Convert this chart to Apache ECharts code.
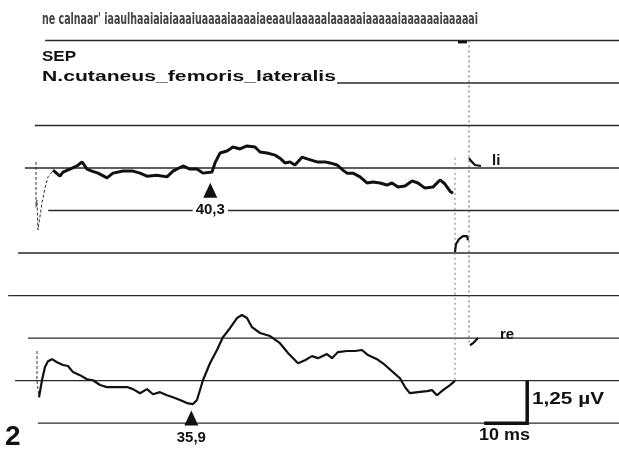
<!DOCTYPE html>
<html>
<head>
<meta charset="utf-8">
<script src="https://cdn.jsdelivr.net/npm/echarts@6/dist/echarts.min.js"></script>
<style>
  html, body { margin: 0; height: 100%; background: #fff; }
  #chart { width: 619px; height: 450px; }
</style>
</head>
<body>
<div id="chart"></div>
<script>
// time in ms after stimulus, amplitude in µV
// left leg (li) trace
var liTime = [3.72, 5.35, 6.05, 7.67, 9.30, 10.47, 11.63, 12.79, 14.19, 16.28, 17.67, 20.0, 22.33, 23.95, 25.58,
  27.91, 30.23, 31.63, 33.95, 35.58, 37.21, 38.60, 40.70, 41.40, 42.56, 44.19, 45.58, 47.21, 48.84, 50.70,
  51.86, 53.49, 55.35, 56.51, 57.67, 58.84, 60.0, 61.63, 63.02, 65.12, 66.98, 68.14, 69.77, 71.16, 72.09,
  73.49, 75.12, 76.74, 78.14, 79.77, 81.40, 82.56, 83.95, 85.58, 87.21, 88.60, 90.23, 92.09, 93.72, 94.88,
  96.05, 96.74];
var liVolt = [7.44, 7.26, 7.38, 7.47, 7.56, 7.68, 7.47, 7.41, 7.35, 7.21, 7.35, 7.41, 7.41, 7.35, 7.26,
  7.29, 7.24, 7.41, 7.56, 7.47, 7.47, 7.35, 7.38, 7.65, 7.94, 8.00, 8.12, 8.06, 8.15, 8.12,
  7.97, 7.94, 7.88, 7.79, 7.65, 7.68, 7.59, 7.82, 7.76, 7.68, 7.68, 7.65, 7.59, 7.44, 7.35,
  7.35, 7.24, 7.06, 7.09, 7.06, 7.00, 7.06, 6.94, 6.97, 7.12, 7.06, 6.91, 6.94, 7.15, 7.03,
  6.82, 6.76];
var liArtTime = [-0.23, -0.23, 0.0, 0.23, 1.16, 1.86, 2.56, 3.49, 3.72];
var liArtVolt = [7.68, 6.35, 6.56, 5.68, 6.47, 6.91, 7.24, 7.38, 7.44];

// right leg (re) trace
var reTime = [0.47, 1.16, 1.86, 2.56, 3.49, 4.65, 6.05, 7.21, 8.37, 10.0, 11.63, 13.02, 14.65, 16.28, 18.60,
  20.93, 22.33, 23.95, 25.58, 26.98, 28.60, 30.23, 31.63, 33.26, 34.88, 36.28, 37.21, 38.60, 40.23, 41.86,
  43.26, 44.88, 46.51, 47.67, 48.84, 50.0, 51.86, 54.19, 54.88, 56.51, 58.37, 60.70, 62.33, 63.95, 65.35,
  67.44, 68.60, 70.0, 72.09, 73.95, 75.58, 76.98, 79.07, 80.93, 82.79, 84.42, 85.58, 86.74, 88.60, 90.70,
  91.86, 93.02, 94.42, 96.05, 97.21];
var reVolt = [0.76, 1.26, 1.65, 1.82, 1.88, 1.79, 1.71, 1.68, 1.50, 1.41, 1.29, 1.26, 1.12, 1.06, 1.06,
  1.06, 1.00, 0.88, 1.00, 0.85, 0.91, 0.82, 0.76, 0.68, 0.59, 0.56, 0.68, 1.26, 1.76, 2.15,
  2.53, 2.79, 3.09, 3.18, 3.09, 2.82, 2.65, 2.56, 2.50, 2.35, 2.06, 1.76, 1.85, 1.97, 1.91,
  2.03, 1.91, 2.09, 2.12, 2.12, 2.15, 2.00, 1.88, 1.71, 1.50, 1.32, 1.06, 0.88, 0.91, 0.94,
  0.97, 0.82, 0.97, 1.12, 1.24];
var reArtTime = [0.0, 0.0, 0.47];
var reArtVolt = [2.12, 1.24, 0.76];

// calibration blips after sweep end
var liHookTime = [100.47, 100.93, 101.86, 103.26];
var liHookVolt = [7.79, 7.71, 7.59, 7.56];
var midArcTime = [97.21, 97.44, 98.14, 99.07, 100.0, 100.23];
var midArcVolt = [5.03, 5.26, 5.41, 5.50, 5.50, 5.38];
var reHookTime = [100.70, 101.40, 102.56];
var reHookVolt = [2.29, 2.35, 2.50];

// reference lines every 1.25 µV and where each starts (ms)
var gridLevels = [0, 1.25, 2.5, 3.75, 5.0, 6.25, 7.5, 8.75, 10.0, 11.25];
var gridStart = [0.2, -5.1, -2.1, -6.7, -4.4, 2.6, -2.8, -0.5, 69.8, 1.9];

// latency markers
var markerTime = [40.3, 35.9];
var markerVolt = [6.85, 0.15];
var markerText = ['40,3', '35,9'];

// calibration bar: 10 ms, 1.25 µV
var calTime = [104.0, 114.0, 114.0];
var calVolt = [0, 0, 1.25];

var X_MIN = -8.6, X_MAX = 135.35, Y_MIN = -0.79, Y_MAX = 12.44;

function pairs(t, v) {
  return t.map(function (x, i) { return [x, v[i]]; });
}

var ink = '#111';
var series = [];

gridLevels.forEach(function (lv, i) {
  series.push({
    type: 'line', silent: true, symbol: 'none', z: 1,
    data: [[gridStart[i], lv], [X_MAX, lv]],
    lineStyle: { color: '#2a2a2a', width: 1.4 }
  });
});

// vertical dotted sweep markers
series.push({
  type: 'line', symbol: 'none', z: 2,
  data: [[100.47, 11.25], [100.47, 2.29]],
  lineStyle: { color: '#555', width: 1, type: [2, 3] }
});
series.push({
  type: 'line', symbol: 'none', z: 2,
  data: [[97.21, 7.8], [97.21, 1.21]],
  lineStyle: { color: '#777', width: 1, type: [2, 3] }
});
series.push({
  type: 'line', symbol: 'none', z: 3,
  data: [[97.9, 11.2], [100.0, 11.2]],
  lineStyle: { color: ink, width: 2.5 }
});

series.push({
  type: 'line', symbol: 'none', z: 3,
  data: pairs(liArtTime, liArtVolt),
  lineStyle: { color: '#333', width: 1, type: [3, 2] }
});
series.push({
  type: 'line', symbol: 'none', z: 4,
  data: pairs(liTime, liVolt),
  lineStyle: { color: ink, width: 3 }
});
series.push({
  type: 'line', symbol: 'none', z: 3,
  data: pairs(reArtTime, reArtVolt),
  lineStyle: { color: '#333', width: 1, type: [3, 2] }
});
series.push({
  type: 'line', symbol: 'none', z: 4,
  data: pairs(reTime, reVolt),
  lineStyle: { color: ink, width: 2.2 }
});
[[liHookTime, liHookVolt], [midArcTime, midArcVolt], [reHookTime, reHookVolt]].forEach(function (h) {
  series.push({
    type: 'line', symbol: 'none', z: 4,
    data: pairs(h[0], h[1]),
    lineStyle: { color: ink, width: 2.2 }
  });
});

series.push({
  type: 'line', symbol: 'none', z: 4,
  data: pairs(calTime, calVolt),
  lineStyle: { color: ink, width: 3.5, cap: 'butt', join: 'miter' }
});

series.push({
  type: 'scatter', z: 6,
  symbol: 'triangle', symbolSize: [14, 15],
  itemStyle: { color: ink, opacity: 1 },
  data: markerTime.map(function (t, i) { return { value: [t, markerVolt[i]], name: markerText[i] }; }),
  label: {
    show: true, position: 'bottom', distance: 5,
    formatter: function (p) { return p.name; },
    color: ink, fontFamily: 'Liberation Sans', fontWeight: 'bold', fontSize: 15,
    backgroundColor: '#fff', padding: [0, 3]
  }
});

// fit text to a width
var measureCtx = document.createElement('canvas').getContext('2d');
function fitScale(str, font, width) {
  measureCtx.font = font;
  return width / measureCtx.measureText(str).width;
}

var headerStr = "ne calnaar' iaaulhaaiaiaiaaaiuaaaaiaaaaiaeaaulaaaaalaaaaaiaaaaaiaaaaaaiaaaaai";
var headerFont = 'bold 16px "DejaVu Sans Condensed"';
var titleStr = 'N.cutaneus_femoris_lateralis';
var titleFont = 'bold 15px "Liberation Sans"';

function txt(str, x, y, font, extra, fill) {
  var el = {
    type: 'text', x: x, y: y, z: 10,
    style: { text: str, font: font, fill: fill || ink, textAlign: 'left', textVerticalAlign: 'middle' }
  };
  if (extra) for (var k in extra) el[k] = extra[k];
  return el;
}

var graphics = [
  txt(headerStr, 42, 20, headerFont, { scaleX: fitScale(headerStr, headerFont, 436) }, '#444'),
  txt('SEP', 42, 57, 'bold 15px "Liberation Sans"', { scaleX: fitScale('SEP', 'bold 15px "Liberation Sans"', 34) }),
  txt(titleStr, 42, 77, titleFont, { scaleX: fitScale(titleStr, titleFont, 294) }),
  txt('li', 492, 161, 'bold 15px "Liberation Sans"'),
  txt('re', 500, 335, 'bold 15px "Liberation Sans"'),
  txt('1,25 µV', 532, 400, 'bold 16px "Liberation Sans"', { scaleX: fitScale('1,25 µV', 'bold 16px "Liberation Sans"', 72) }),
  txt('10 ms', 479, 436, 'bold 16px "Liberation Sans"', { scaleX: fitScale('10 ms', 'bold 16px "Liberation Sans"', 51) }),
  txt('2', 5, 437, 'bold 28px "Liberation Sans"')
];

var chart = echarts.init(document.getElementById('chart'));
var option = {
  backgroundColor: '#fff',
  animation: false,
  grid: { left: 0, right: 0, top: 0, bottom: 0 },
  xAxis: { type: 'value', min: X_MIN, max: X_MAX, show: false },
  yAxis: { type: 'value', min: Y_MIN, max: Y_MAX, show: false },
  series: series,
  graphic: graphics
};
chart.setOption(option);
</script>
</body>
</html>
